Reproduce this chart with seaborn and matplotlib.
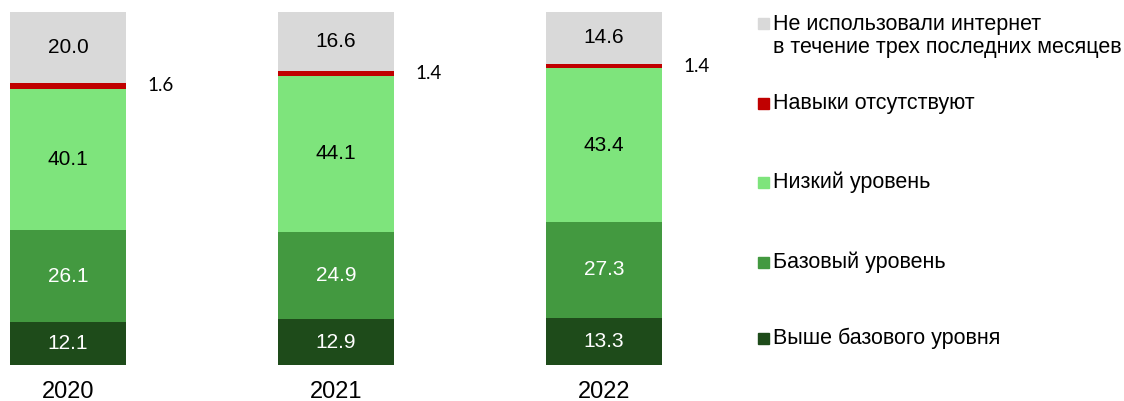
import matplotlib
matplotlib.use("Agg")
import matplotlib.pyplot as plt
import seaborn as sns
import numpy as np
import pandas as pd

sns.set_style("white")
plt.rcParams['font.family'] = ['Liberation Sans', 'DejaVu Sans']
plt.rcParams['text.color'] = 'black'
plt.rcParams['xtick.color'] = 'black'

years = ['2020', '2021', '2022']
above_base = [12.1, 12.9, 13.3]
base_level = [26.1, 24.9, 27.3]
low_level = [40.1, 44.1, 43.4]
no_skills = [1.6, 1.4, 1.4]
not_used = [20.0, 16.6, 14.6]

series_names = ['Выше базового уровня', 'Базовый уровень', 'Низкий уровень',
                'Навыки отсутствуют',
                'Не использовали интернет\nв течение трех последних месяцев']
series_values = [above_base, base_level, low_level, no_skills, not_used]
colors = ['#1E4B1A', '#439940', '#7EE47C', '#C00000', '#D9D9D9']
text_colors = ['white', 'white', 'black', None, 'black']

W, H = 1124, 401
fig = plt.figure(figsize=(W / 100, H / 100), dpi=100)
ax = fig.add_axes([0, 1 - 365 / H, 1, 353 / H])

bottom = np.zeros(len(years))
for name, vals, col, tc in zip(series_names, series_values, colors, text_colors):
    df = pd.DataFrame({'year': years, 'value': vals})
    sns.barplot(data=df, x='year', y='value', bottom=bottom, color=col,
                saturation=1, width=0.433, linewidth=0, errorbar=None, ax=ax)
    for i, v in enumerate(vals):
        yc = bottom[i] + v / 2
        if tc is None:
            ax.text(i + 0.433 / 2 + 0.08, yc, f'{v:.1f}', ha='left', va='center',
                    fontsize=13.5, family=['Lato', 'DejaVu Sans'], color='black')
        else:
            ax.text(i, yc, f'{v:.1f}', ha='center', va='center',
                    fontsize=15, color=tc)
    bottom = bottom + np.array(vals)

ax.set_xlim(-68 / 268, (W - 68) / 268)
ax.set_ylim(0, 100)
ax.set_xlabel('')
ax.set_ylabel('')
ax.set_yticks([])
ax.tick_params(axis='x', length=0, pad=11.5, labelsize=17, labelcolor='black')
for s in ax.spines.values():
    s.set_visible(False)

# legend (top to bottom)
leg_y = [23, 103, 182, 262, 338]
order = [4, 3, 2, 1, 0]
for y, k in zip(leg_y, order):
    fig.patches.append(plt.Rectangle((758 / W, 1 - (y + 5.5) / H), 11 / W, 11 / H,
                                     transform=fig.transFigure, color=colors[k]))
    if '\n' in series_names[k]:
        fig.text(773 / W, 1 - (y - 9) / H, series_names[k], ha='left', va='top',
                 fontsize=15.5, linespacing=1.1, color='black')
    else:
        fig.text(773 / W, 1 - y / H, series_names[k], ha='left', va='center',
                 fontsize=15.5, color='black')

fig.savefig('out.png', dpi=100)
